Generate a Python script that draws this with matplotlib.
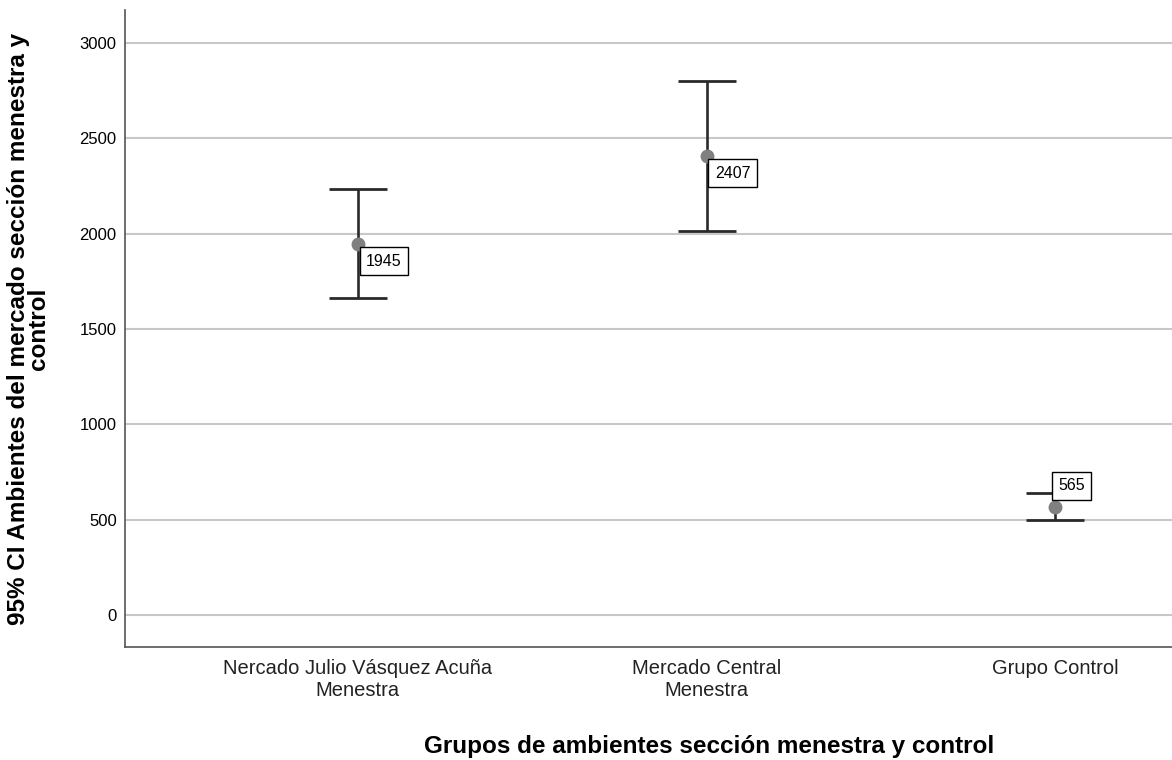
import matplotlib
matplotlib.use('Agg')
import matplotlib.pyplot as plt

# datos
grupos = ['Nercado Julio Vásquez Acuña\nMenestra', 'Mercado Central\nMenestra', 'Grupo Control']
medias = [1945, 2407, 565]
ic_inf = [1662, 2014, 498]
ic_sup = [2236, 2803, 640]
yticks = [0, 500, 1000, 1500, 2000, 2500, 3000]

plt.rcParams['font.family'] = ['Liberation Sans', 'DejaVu Sans']

fig = plt.figure(figsize=(11.72, 7.6), dpi=100)
ax = fig.add_axes([125 / 1172, 1 - 647 / 760, 1 - 125 / 1172, (647 - 10) / 760])

x = list(range(len(grupos)))
err = [[m - lo for m, lo in zip(medias, ic_inf)], [hi - m for m, hi in zip(medias, ic_sup)]]
ax.errorbar(x, medias, yerr=err, fmt='none', ecolor='#2a2a2a', elinewidth=1.9,
            capsize=21, capthick=2, zorder=3)
ax.plot(x, medias, 'o', color='#808080', markersize=9, zorder=4)

# etiquetas con el valor de la media
offsets = [(6, -7), (6, -7), (2, 10)]
for xi, m, off in zip(x, medias, offsets):
    ax.annotate(f'{m}', xy=(xi, m), xytext=off, textcoords='offset points',
                ha='left', va='top' if off[1] < 0 else 'bottom', fontsize=11.5,
                bbox=dict(boxstyle='square,pad=0.4', fc='white', ec='black', lw=1), zorder=5)

ax.set_xlim(-0.668, 2.335)
ax.set_ylim(-168, 3173)
ax.set_yticks(yticks)
ax.set_xticks(x)
ax.set_xticklabels(grupos, fontsize=14.5, color='#222222', linespacing=1.15)
ax.tick_params(axis='x', length=0, pad=9)
ax.tick_params(axis='y', labelsize=12, length=0, pad=6)
ax.yaxis.grid(True, color='#c8c8c8', linewidth=1.5)
ax.set_axisbelow(True)
for s in ['top', 'right']:
    ax.spines[s].set_visible(False)
for s in ['left', 'bottom']:
    ax.spines[s].set_color('#555555')
    ax.spines[s].set_linewidth(1.2)

ax.set_xlabel('Grupos de ambientes sección menestra y control', fontsize=17.5,
              fontweight='bold')
ax.xaxis.set_label_coords(0.558, -0.138)
ax.set_ylabel('95% CI Ambientes del mercado sección menestra y\ncontrol', fontsize=17.5,
              fontweight='bold', linespacing=0.85)
ax.yaxis.set_label_coords(-0.0716, 0.5)

fig.savefig('out.png', dpi=100)
